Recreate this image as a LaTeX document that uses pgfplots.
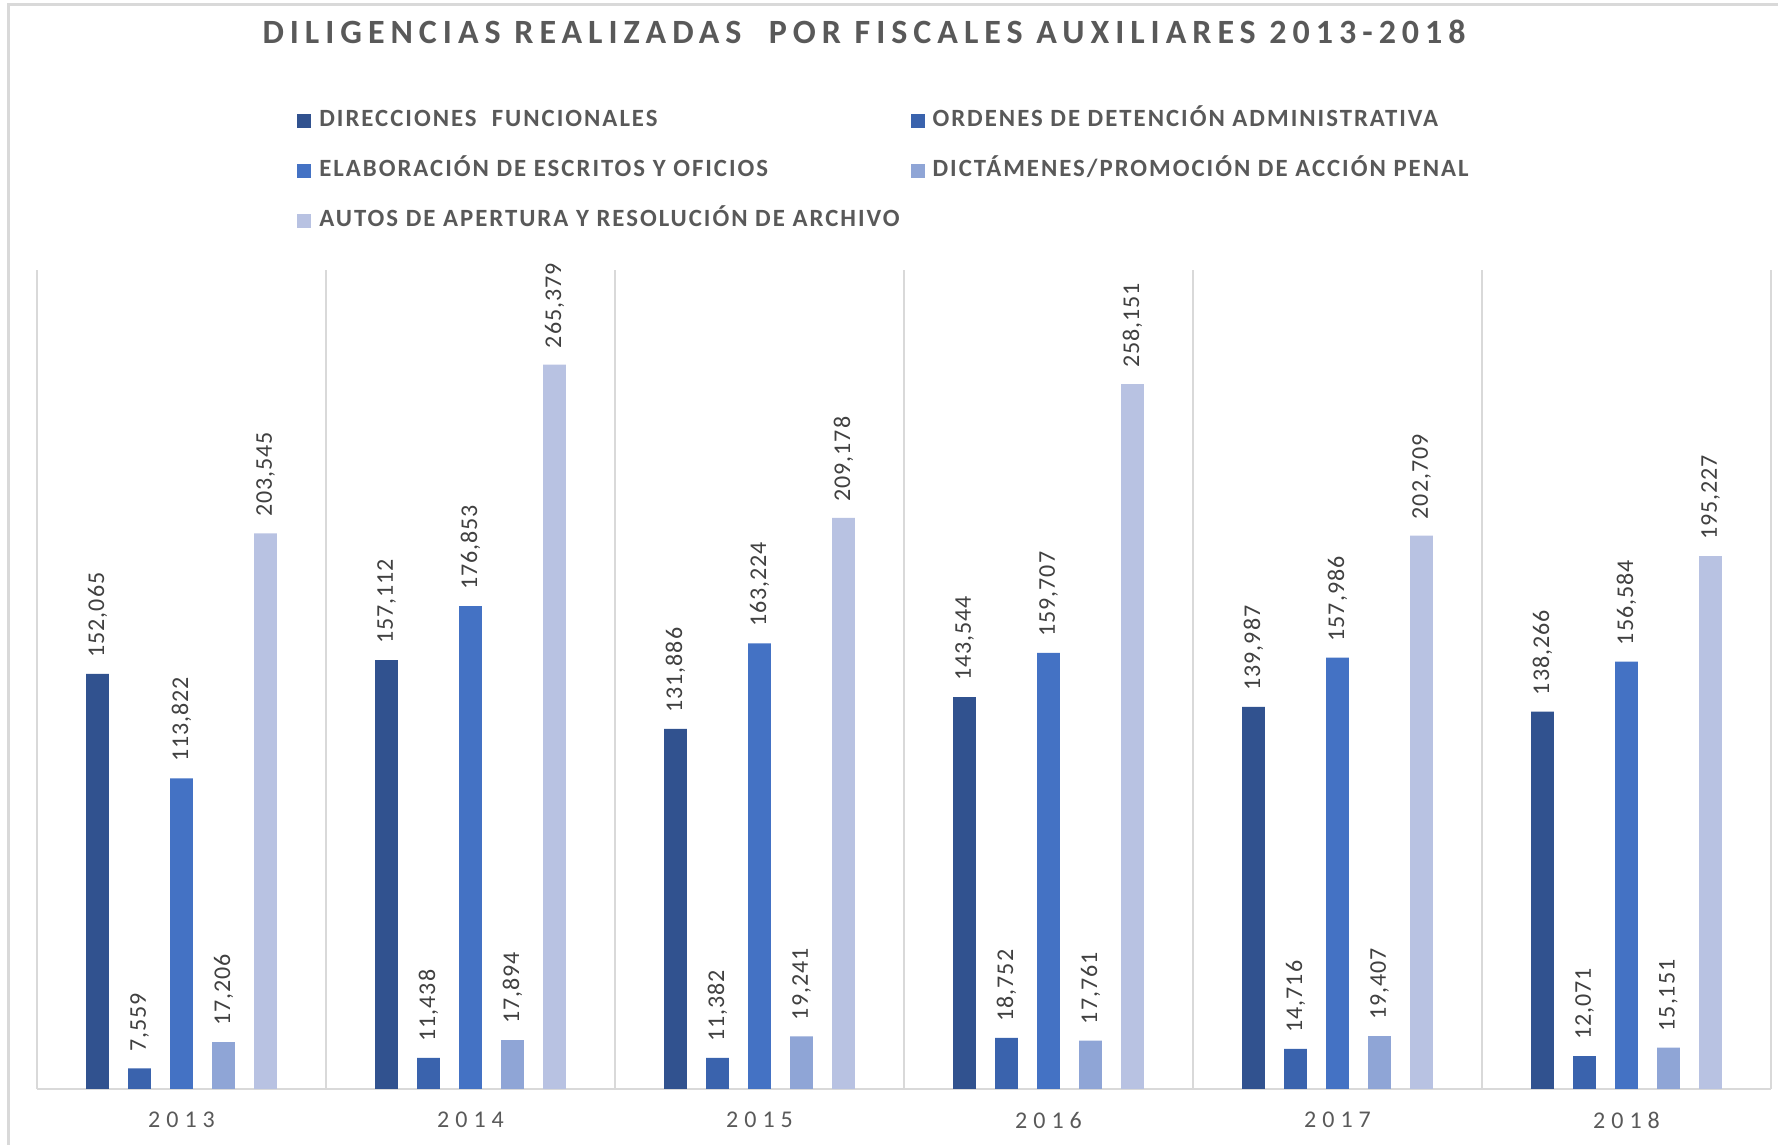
\documentclass[border=0pt]{standalone}
\usepackage{fontspec}
\setmainfont{Carlito}
\usepackage{pgfplots}
\usepackage{pgfplotstable}
\pgfplotsset{compat=1.18}
\definecolor{sA}{HTML}{31528F}
\definecolor{sB}{HTML}{3A63AD}
\definecolor{sC}{HTML}{4472C4}
\definecolor{sD}{HTML}{8FA5D6}
\definecolor{sE}{HTML}{B8C2E2}
\definecolor{gridgray}{HTML}{D9D9D9}
\definecolor{textgray}{HTML}{595959}
\definecolor{labelgray}{HTML}{404040}
\pgfplotstableread{
x a b c d e
0 152065 7559 113822 17206 203545
1 157112 11438 176853 17894 265379
2 131886 11382 163224 19241 209178
3 143544 18752 159707 17761 258151
4 139987 14716 157986 19407 202709
5 138266 12071 156584 15151 195227
}\datatable
\begin{document}
\begin{tikzpicture}
\useasboundingbox (0,0) rectangle (889pt,572.5pt);
\draw[gridgray, line width=1.5pt] (4pt,-10pt) -- (4pt,570pt) -- (900pt,570pt);
\node[font=\bfseries\fontsize{17}{20}\selectfont\addfontfeature{LetterSpace=17.6}, text=textgray] at (432pt,556.5pt) {DILIGENCIAS REALIZADAS\ \ POR FISCALES AUXILIARES 2013-2018};
\begin{axis}[
  at={(18.5pt,28pt)}, anchor=south west,
  scale only axis, width=867pt, height=409.5pt,
  ybar=9.7pt, bar width=11.3pt,
  xmin=-0.5, xmax=5.5, ymin=0, ymax=300000,
  axis x line*=bottom, axis y line=none,
  axis line style={-, draw=gridgray, line width=1pt},
  xtick={0,1,2,3,4,5},
  xticklabels={2013,2014,2015,2016,2017,2018},
  minor xtick={-0.5,0.5,1.5,2.5,3.5,4.5,5.5},
  xminorgrids, minor grid style={draw=gridgray, line width=1pt},
  major tick length=0pt, minor tick length=0pt,
  ytick=\empty,
  xticklabel style={font=\fontsize{12}{14}\selectfont\addfontfeature{LetterSpace=25}, text=textgray, anchor=center, yshift=-15.5pt},
  clip=false,
  nodes near coords,
  /pgf/number format/assume math mode=true,
  /pgf/number format/.cd, fixed, precision=0, 1000 sep={,}, /pgfplots/.cd,
  every node near coord/.append style={rotate=90, anchor=west, inner xsep=8pt, inner ysep=0pt, font=\fontsize{12}{14}\selectfont\addfontfeature{LetterSpace=4}, text=labelgray},
  legend columns=2,
  legend cell align=left,
  legend image code/.code={\fill[#1] (0pt,-3.5pt) rectangle (7pt,3.5pt);},
  legend style={at={(0.1499,1.1974)}, anchor=north west, draw=none, fill=none, inner sep=0pt, row sep=13pt,
    font=\bfseries\fontsize{12.4}{14}\selectfont\addfontfeature{LetterSpace=8}, text=textgray,
    nodes={inner sep=0pt, text height=9pt, text depth=3pt},
    /tikz/every odd column/.append style={column sep=4pt},
    /tikz/column 2/.append style={column sep=5.5pt}},
]
\addplot[fill=sA, draw=none] table[x=x, y=a] {\datatable};
\addlegendentry{DIRECCIONES\ \ FUNCIONALES}
\addplot[fill=sB, draw=none] table[x=x, y=b] {\datatable};
\addlegendentry{ORDENES DE DETENCIÓN ADMINISTRATIVA}
\addplot[fill=sC, draw=none] table[x=x, y=c] {\datatable};
\addlegendentry{ELABORACIÓN DE ESCRITOS Y OFICIOS}
\addplot[fill=sD, draw=none] table[x=x, y=d] {\datatable};
\addlegendentry{DICTÁMENES/PROMOCIÓN DE ACCIÓN PENAL}
\addplot[fill=sE, draw=none] table[x=x, y=e] {\datatable};
\addlegendentry{AUTOS DE APERTURA Y RESOLUCIÓN DE ARCHIVO}
\end{axis}
\end{tikzpicture}
\end{document}
